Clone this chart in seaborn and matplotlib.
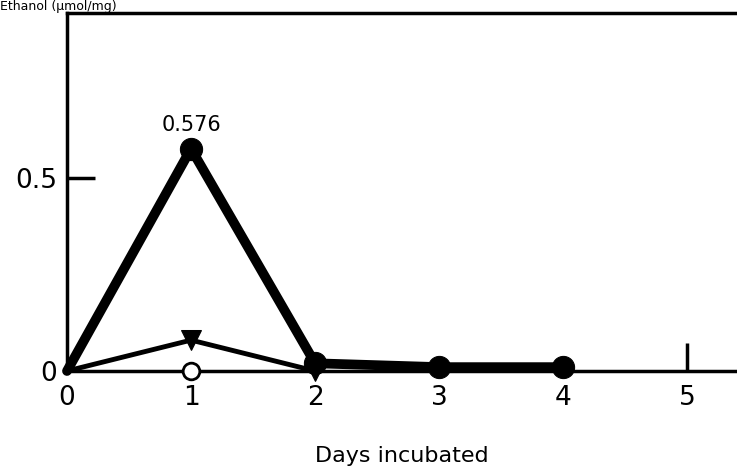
import numpy as np
import pandas as pd
import matplotlib
matplotlib.use("Agg")
import matplotlib.pyplot as plt
import seaborn as sns

# values
days_filled = [0, 1, 2, 3, 4]
ethanol_filled = [0.0, 0.576, 0.02, 0.01, 0.01]
days_tri = [0, 1, 2]
ethanol_tri = [0.0, 0.08, 0.0]
days_open = [0, 1, 2]
ethanol_open = [0.0, 0.0, 0.0]
xticks = [0, 1, 2, 3, 4, 5]
yticks = [0, 0.5]
ytick_labels = ["0", "0.5"]

sns.set_style("white")
plt.rcParams['font.family'] = ['DejaVu Sans']
plt.rcParams['text.color'] = 'black'

fig = plt.figure(figsize=(7.37, 4.72), dpi=100)
ax = fig.add_axes([0.0909, 0.214, 0.909, 0.758])

df_open = pd.DataFrame({"day": days_open, "val": ethanol_open})
df_tri = pd.DataFrame({"day": days_tri, "val": ethanol_tri})
df_fill = pd.DataFrame({"day": days_filled, "val": ethanol_filled})

sns.lineplot(data=df_open, x="day", y="val", ax=ax, color="black", linewidth=2,
             marker="o", markersize=12, markerfacecolor="white", markeredgecolor="black",
             markeredgewidth=2, markevery=[1], clip_on=False, zorder=3)
sns.lineplot(data=df_tri, x="day", y="val", ax=ax, color="black", linewidth=3.5,
             marker="v", markersize=14, markeredgecolor="black",
             markevery=[1, 2], clip_on=False, zorder=4)
sns.lineplot(data=df_fill, x="day", y="val", ax=ax, color="black", linewidth=7,
             marker="o", markersize=16, markeredgecolor="black",
             markevery=[1, 2, 3, 4], clip_on=False, zorder=5)

ax.text(1, 0.576 + 0.035, "0.576", ha="center", va="bottom", fontsize=15, color="black")

ax.set_xlim(0, 5.4)
ax.set_ylim(0, 0.927)
ax.set_xticks(xticks)
ax.set_yticks(yticks)
ax.set_yticklabels(ytick_labels)
# tick marks only where the original shows them
ax.xaxis.remove_overlapping_locs = False
ax.yaxis.remove_overlapping_locs = False
ax.set_xticks([5], minor=True)
ax.set_yticks([0.5], minor=True)
ax.tick_params(axis="both", which="major", length=0, labelsize=19, labelcolor="black")
ax.tick_params(axis="x", which="major", pad=10)
ax.tick_params(axis="y", which="major", pad=7)
ax.tick_params(axis="both", which="minor", direction="in", length=20, width=2.5,
               color="black", bottom=True, left=True)
for s in ["left", "top", "bottom"]:
    ax.spines[s].set_visible(True)
    ax.spines[s].set_linewidth(2.5)
    ax.spines[s].set_color("black")
ax.spines["right"].set_visible(False)
ax.set_xlabel("Days incubated", fontsize=16, labelpad=25, color="black")
ax.set_ylabel("")

fig.text(0.0, 0.999, "Ethanol (\u03bcmol/mg)", ha="left", va="top", fontsize=9, color="black")

fig.savefig("out.png", dpi=100)
